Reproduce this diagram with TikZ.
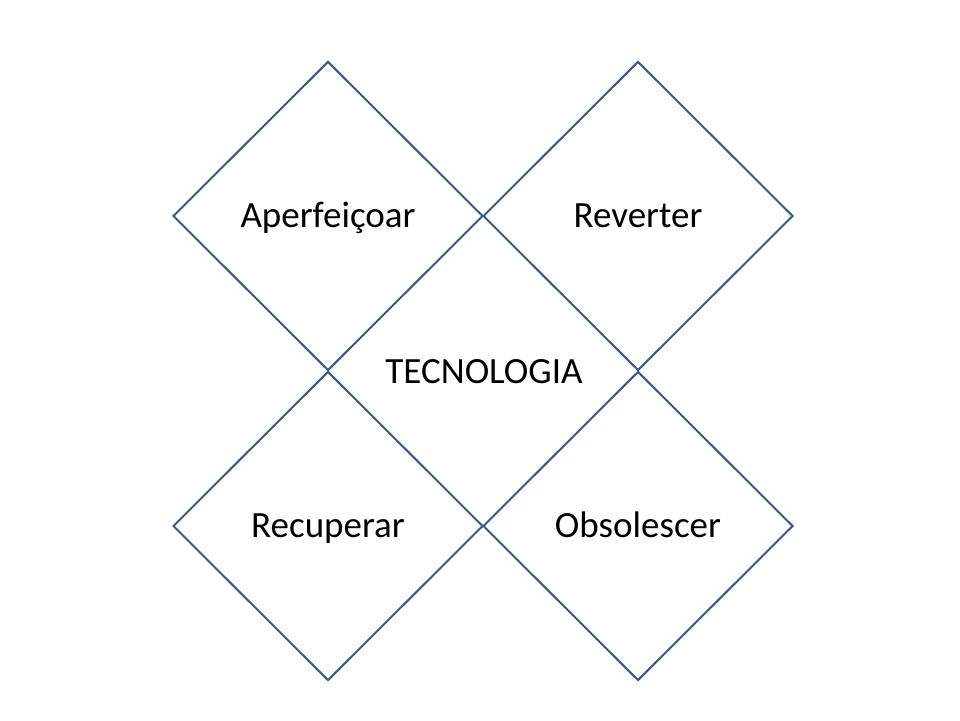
\documentclass[tikz,border=0pt]{standalone}
\usepackage{fontspec}
\setmainfont{Carlito}
\usetikzlibrary{shapes.geometric}
\definecolor{edge}{HTML}{3A5A85}
\begin{document}
\begin{tikzpicture}[x=1pt,y=1pt,
  lbl/.style={font=\fontsize{37}{42}\selectfont,text=black,text height=29pt,text depth=5pt},
  rhomb/.style={diamond,draw=edge,line width=2pt,minimum width=310pt,minimum height=309pt,inner sep=0pt,lbl}]
\useasboundingbox (0,0) rectangle (960,720);
\node[rhomb] (tl) at (328,504) {Aperfeiçoar};
\node[rhomb] (tr) at (638,504) {Reverter};
\node[rhomb] (bl) at (328,194) {Recuperar};
\node[rhomb] (br) at (638,194) {Obsolescer};
\node[lbl,inner sep=0pt] (c) at (484,348) {TECNOLOGIA};
\end{tikzpicture}
\end{document}
